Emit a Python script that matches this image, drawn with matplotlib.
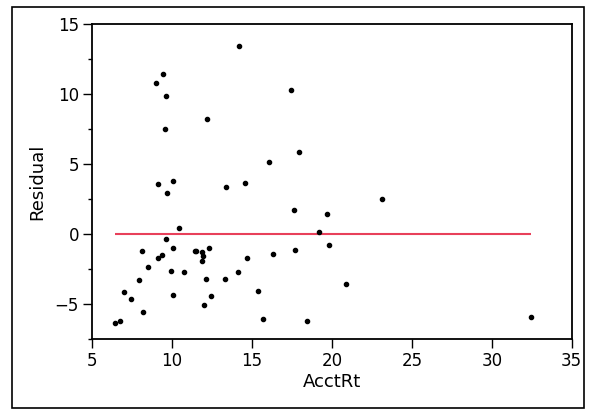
import matplotlib
matplotlib.use('Agg')
import matplotlib.pyplot as plt
from matplotlib.patches import Rectangle
from matplotlib.ticker import MultipleLocator

# residuals vs AcctRt
acct_rt = [14.2, 9.42, 8.96, 9.61, 12.15, 9.56, 17.44, 17.94, 16.09,
           9.11, 10.04, 9.67, 13.34, 14.56, 23.13, 17.63, 19.69, 10.44,
           19.17, 9.59, 19.84, 8.13, 10.06, 9.13, 9.36, 11.4, 11.52,
           11.88, 11.94, 11.86, 12.28, 17.67, 16.29, 14.69, 8.48, 9.92,
           10.75, 14.15, 7.9, 12.11, 13.29, 20.9, 6.98, 7.42, 10.04,
           12.44, 15.38, 12.0, 8.19, 15.71, 18.42, 6.44, 6.71, 32.48]
residual = [13.4, 11.42, 10.78, 9.88, 8.18, 7.52, 10.3, 5.89, 5.15,
            3.57, 3.81, 2.91, 3.36, 3.66, 2.5, 1.72, 1.4, 0.45,
            0.14, -0.38, -0.76, -1.25, -1.01, -1.68, -1.51, -1.18, -1.23,
            -1.32, -1.56, -1.94, -1.01, -1.16, -1.4, -1.7, -2.34, -2.62,
            -2.72, -2.7, -3.28, -3.24, -3.24, -3.6, -4.16, -4.66, -4.35,
            -4.45, -4.09, -5.04, -5.55, -6.05, -6.19, -6.33, -6.22, -5.96]

x_ticks = [5, 10, 15, 20, 25, 30, 35]
y_ticks = [-5, 0, 5, 10, 15]


def main():
    fig = plt.figure(figsize=(5.95, 4.13), dpi=100)
    ax = fig.add_axes([0.1551, 0.1792, 0.8057, 0.7627])

    # outer frame
    fig.patches.append(Rectangle((0.0202, 0.0121), 0.9613, 0.971,
                                 transform=fig.transFigure, fill=False,
                                 edgecolor='black', linewidth=1.2))

    ax.hlines(0, min(acct_rt), max(acct_rt), color='#e8405a', linewidth=1.5,
              zorder=2)
    ax.scatter(acct_rt, residual, s=9, color='black', zorder=3)

    ax.set_xlim(5, 35)
    ax.set_ylim(-7.5, 15)
    ax.set_xticks(x_ticks)
    ax.set_yticks(y_ticks)
    ax.yaxis.set_minor_locator(MultipleLocator(2.5))
    ax.tick_params(axis='both', which='major', length=6.5, width=1,
                   labelsize=12, pad=3)
    ax.tick_params(axis='y', which='minor', length=3, width=1)
    for sp in ax.spines.values():
        sp.set_linewidth(1.3)

    ax.set_xlabel('AcctRt', fontsize=13, labelpad=2)
    ax.set_ylabel('Residual', fontsize=13, labelpad=6)

    fig.savefig('out.png', dpi=100)


if __name__ == '__main__':
    main()
